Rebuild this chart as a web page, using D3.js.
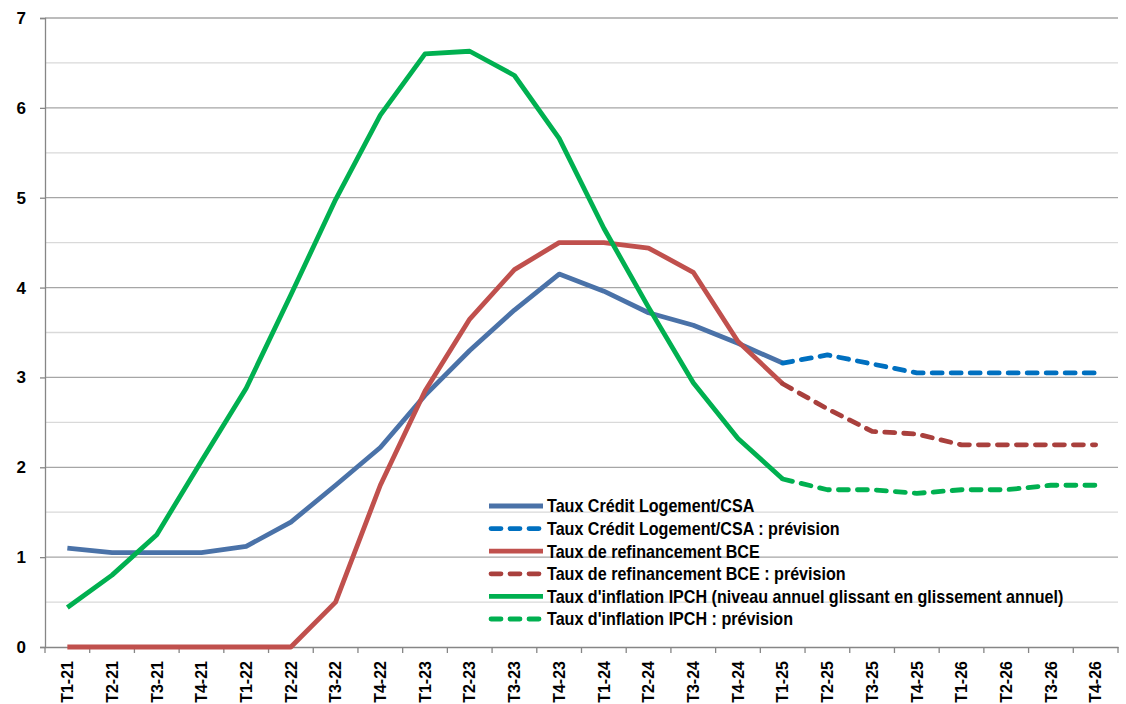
<!DOCTYPE html>
<html><head><meta charset="utf-8">
<script src="https://cdn.jsdelivr.net/npm/d3@7/dist/d3.min.js"></script>
<style>
body{margin:0;background:#fff;}
svg text{font-family:"Liberation Sans",Arial,sans-serif;font-weight:bold;fill:#000;}
</style></head><body>
<svg id="c" width="1126" height="704"></svg>
<script>
const categories = ["T1-21","T2-21","T3-21","T4-21","T1-22","T2-22","T3-22","T4-22","T1-23","T2-23","T3-23","T4-23","T1-24","T2-24","T3-24","T4-24","T1-25","T2-25","T3-25","T4-25","T1-26","T2-26","T3-26","T4-26"];
const csa = [1.10,1.05,1.05,1.05,1.12,1.39,1.80,2.22,2.80,3.30,3.75,4.15,3.96,3.72,3.58,3.38,3.16,null,null,null,null,null,null,null];
const csaPrev = [null,null,null,null,null,null,null,null,null,null,null,null,null,null,null,null,3.16,3.25,3.15,3.05,3.05,3.05,3.05,3.05];
const bce = [0,0,0,0,0,0,0.50,1.80,2.85,3.65,4.20,4.50,4.50,4.44,4.17,3.40,2.93,null,null,null,null,null,null,null];
const bcePrev = [null,null,null,null,null,null,null,null,null,null,null,null,null,null,null,null,2.93,2.65,2.40,2.37,2.25,2.25,2.25,2.25];
const ipch = [0.44,0.80,1.25,2.07,2.88,3.92,4.98,5.92,6.60,6.63,6.36,5.66,4.66,3.78,2.94,2.32,1.87,null,null,null,null,null,null,null];
const ipchPrev = [null,null,null,null,null,null,null,null,null,null,null,null,null,null,null,null,1.87,1.75,1.75,1.71,1.75,1.75,1.80,1.80];
const yTicks = [0,1,2,3,4,5,6,7];
const seriesNames = ["Taux Crédit Logement/CSA","Taux Crédit Logement/CSA : prévision","Taux de refinancement BCE","Taux de refinancement BCE : prévision","Taux d'inflation IPCH (niveau annuel glissant en glissement annuel)","Taux d'inflation IPCH : prévision"];

const series = [
  {name:seriesNames[0], data:csa, color:"#4A72A8", dash:null},
  {name:seriesNames[1], data:csaPrev, color:"#0070C0", dash:"10,9"},
  {name:seriesNames[2], data:bce, color:"#C0504D", dash:null},
  {name:seriesNames[3], data:bcePrev, color:"#A9403D", dash:"10,9"},
  {name:seriesNames[4], data:ipch, color:"#00B050", dash:null},
  {name:seriesNames[5], data:ipchPrev, color:"#00B050", dash:"10,9"}
];

const svg = d3.select("#c");
const L=45, R=1118, T=18, B=647;
const x = d3.scaleBand().domain(categories).range([L,R]);
const y = d3.scaleLinear().domain([0,7]).range([B,T]);

// minor gridlines
const minor = d3.range(0.5,7,1);
svg.append("g").selectAll("line").data(minor).join("line")
  .attr("x1",L).attr("x2",R).attr("y1",d=>y(d)).attr("y2",d=>y(d))
  .attr("stroke","#d9d9d9").attr("stroke-width",1.3);
// major gridlines
svg.append("g").selectAll("line").data(yTicks.filter(d=>d>0)).join("line")
  .attr("x1",L).attr("x2",R).attr("y1",d=>y(d)).attr("y2",d=>y(d))
  .attr("stroke","#a6a6a6").attr("stroke-width",1.3);

// y axis
const ya = svg.append("g").attr("transform",`translate(${L},0)`)
  .call(d3.axisLeft(y).tickValues(yTicks).tickSize(5).tickPadding(14).tickFormat(d3.format("d")));
ya.select(".domain").attr("stroke","#868686").attr("stroke-width",1.3);
ya.selectAll(".tick line").attr("stroke","#868686").attr("stroke-width",1.3);
ya.selectAll("text").style("font-size","17px");

// x axis
const xa = svg.append("g").attr("transform",`translate(0,${B})`)
  .call(d3.axisBottom(x).tickSize(0).tickFormat(d=>d));
xa.select(".domain").attr("stroke","#868686").attr("stroke-width",1.3);
xa.selectAll("text").attr("transform","rotate(-90)").attr("x",-14).attr("y",0).attr("dy","0.36em")
  .style("text-anchor","end").style("font-size","16px");
// boundary ticks
const bounds = categories.map(c=>x(c)).concat([R]);
svg.append("g").selectAll("line").data(bounds).join("line")
  .attr("x1",d=>d).attr("x2",d=>d).attr("y1",B).attr("y2",B+6)
  .attr("stroke","#868686").attr("stroke-width",1.3);

const line = d3.line().defined(d=>d.v!=null).x(d=>x(d.c)+x.bandwidth()/2).y(d=>y(d.v));
series.forEach(s=>{
  svg.append("path").datum(s.data.map((v,i)=>({c:categories[i],v})))
    .attr("d",line).attr("fill","none").attr("stroke",s.color).attr("stroke-width",4.8)
    .attr("stroke-linejoin","round")
    .attr("stroke-linecap", s.dash?"round":"butt")
    .attr("stroke-dasharray",s.dash);
});

// legend
const lg = svg.append("g").attr("transform","translate(489,506)");
series.forEach((s,i)=>{
  const g = lg.append("g").attr("transform",`translate(0,${i*22.6})`);
  g.append("line").attr("x1",s.dash?2:0).attr("x2",s.dash?55:54).attr("y1",0).attr("y2",0)
    .attr("stroke",s.color).attr("stroke-width",4.8)
    .attr("stroke-linecap",s.dash?"round":"butt").attr("stroke-dasharray",s.dash);
  g.append("text").attr("transform","translate(58,0) scale(0.895,1)").attr("dy","0.36em")
    .style("font-size","18px").text(s.name);
});
</script></body></html>
